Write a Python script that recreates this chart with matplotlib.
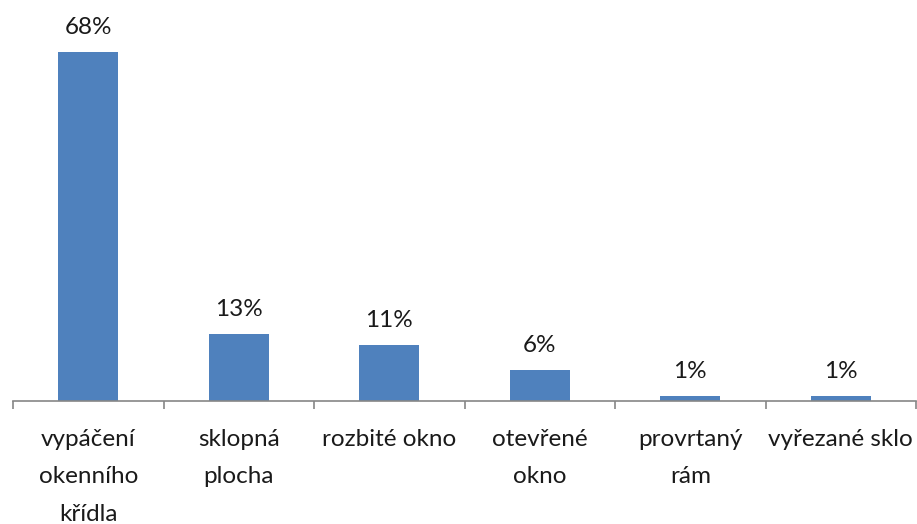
import matplotlib.pyplot as plt
import numpy as np

categories = ['vypáčení\nokenního\nkřídla', 'sklopná\nplocha', 'rozbité okno',
              'otevřené\nokno', 'provrtaný\nrám', 'vyřezané sklo']
values = [68, 13, 11, 6, 1, 1]
value_labels = ['68%', '13%', '11%', '6%', '1%', '1%']

plt.rcParams['font.family'] = ['Lato', 'DejaVu Sans']

fig = plt.figure(figsize=(9.17, 5.24), dpi=100)
ax = fig.add_axes([13 / 917, 123 / 524, 903 / 917, 400 / 524])

x = np.arange(len(categories))
bars = ax.bar(x, values, width=0.4, color='#4F81BD')

for xi, v, lab in zip(x, values, value_labels):
    ax.annotate(lab, (xi, v), xytext=(0, 10), textcoords='offset points',
                ha='center', va='bottom', fontsize=17.5, color='#1a1a1a')

ax.set_xlim(-0.5, len(categories) - 0.5)
ax.set_ylim(0, 78)

for s in ['top', 'right', 'left']:
    ax.spines[s].set_visible(False)
ax.spines['bottom'].set_color('#868686')
ax.spines['bottom'].set_linewidth(1.2)
ax.set_yticks([])

ax.set_xticks(x)
ax.set_xticklabels(categories, fontsize=17.5, color='#1a1a1a', linespacing=1.97,
                   va='top')
ax.tick_params(axis='x', which='major', length=0, pad=20)
ax.set_xticks(np.arange(len(categories) + 1) - 0.5, minor=True)
ax.tick_params(axis='x', which='minor', length=6, width=1.2, color='#868686')

fig.savefig('out.png', dpi=100)
